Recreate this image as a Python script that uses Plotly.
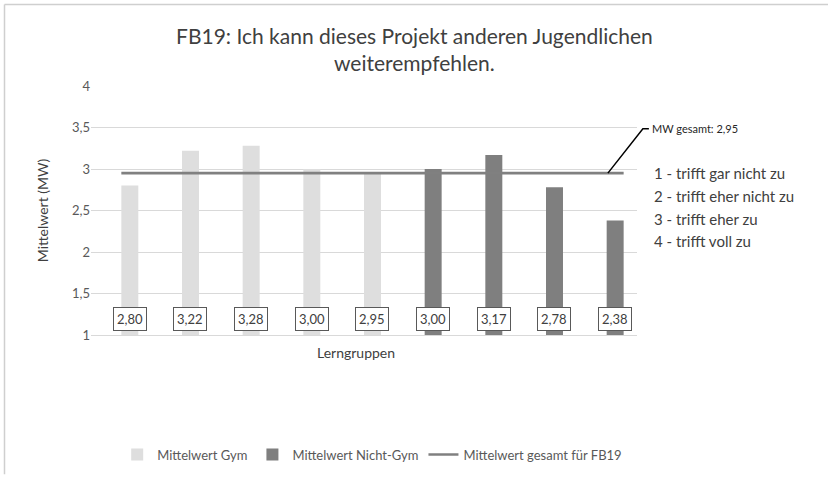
import plotly.graph_objects as go

# Mittelwerte je Lerngruppe
groups = ["G1", "G2", "G3", "G4", "G5", "N1", "N2", "N3", "N4"]
gym_values = [2.80, 3.22, 3.28, 3.00, 2.95, None, None, None, None]
nongym_values = [None, None, None, None, None, 3.00, 3.17, 2.78, 2.38]
overall_mean = 2.95
value_labels = ["2,80", "3,22", "3,28", "3,00", "2,95", "3,00", "3,17", "2,78", "2,38"]
y_ticks = [1, 1.5, 2, 2.5, 3, 3.5, 4]
y_tick_text = ["1", "1,5", "2", "2,5", "3", "3,5", "4"]
scale_text = ["1 - trifft gar nicht zu", "2 - trifft eher nicht zu",
              "3 - trifft eher zu", "4 - trifft voll zu"]
title_lines = ["FB19: Ich kann dieses Projekt anderen Jugendlichen", "weiterempfehlen."]

FONT = "Lato"
W, H = 828, 481
ML, MR, MT, MB = 91, 191, 86, 143
BAR_W = 0.28
x_idx = list(range(len(groups)))
x_range = [-0.5, len(groups) - 0.5]
y_range = [1, 4]

pw = W - ML - MR
ph = H - MT - MB


def px_x(data_x):
    return (data_x - x_range[0]) / (x_range[1] - x_range[0])


def px_y(data_y):
    return (data_y - y_range[0]) / (y_range[1] - y_range[0])


def paper_y(pixel_y):
    return (H - MB - pixel_y) / ph


fig = go.Figure()
fig.add_trace(go.Bar(
    x=x_idx, y=gym_values, width=BAR_W, offset=0,
    marker=dict(color="#dedede", line=dict(width=0)),
    name="Mittelwert Gym",
))
fig.add_trace(go.Bar(
    x=x_idx, y=nongym_values, width=BAR_W, offset=0,
    marker=dict(color="#7f7f7f", line=dict(width=0)),
    name="Mittelwert Nicht-Gym",
))
fig.add_trace(go.Scatter(
    x=[x_idx[0], x_idx[-1] + BAR_W], y=[overall_mean, overall_mean],
    mode="lines", line=dict(color="#808080", width=2.6),
    name="Mittelwert gesamt für FB19",
))

# Wertbeschriftungen am Balkenfuß
for i, lab in enumerate(value_labels):
    fig.add_annotation(
        x=x_idx[i] + BAR_W / 2, y=y_range[0], xref="x", yref="y",
        text=lab, showarrow=False, yanchor="bottom", yshift=4,
        font=dict(family=FONT, size=13, color="#404040"),
        bgcolor="white", bordercolor="#595959", borderwidth=1, borderpad=3,
    )

# Titel (zweizeilig)
for k, line in enumerate(title_lines):
    fig.add_annotation(x=0.5, xref="paper", y=paper_y(35 + 27 * k), yref="paper",
                       xanchor="center", yanchor="middle", showarrow=False,
                       text=line, xshift=(W / 2 - (ML + pw / 2)),
                       font=dict(family=FONT, size=21, color="#404040"))

# Hinweis auf den Gesamtmittelwert mit Führungslinie
lx0 = px_x(x_idx[-1] + 0.02)
ly0 = px_y(overall_mean)
lx1 = lx0 + 35 / pw
ly1 = ly0 + 45 / ph
lx2 = lx1 + 6 / pw
fig.add_shape(type="path", xref="paper", yref="paper",
              path=f"M {lx0} {ly0} L {lx1} {ly1} L {lx2} {ly1}",
              line=dict(color="black", width=1.5))
fig.add_annotation(x=lx2, y=ly1, xref="paper", yref="paper",
                   text="MW gesamt: 2,95", showarrow=False,
                   xanchor="left", yanchor="middle", xshift=1,
                   font=dict(family=FONT, size=11, color="#262626"))

# Skalenlegende rechts
for k, t in enumerate(scale_text):
    fig.add_annotation(x=px_x(x_range[1]) + 15 / pw, y=px_y(2.95) - (k * 23) / ph,
                       xref="paper", yref="paper", text=t, showarrow=False,
                       xanchor="left", yanchor="middle",
                       font=dict(family=FONT, size=15, color="#404040"))

# Achsentitel x
fig.add_annotation(x=0.485, y=0, xref="paper", yref="paper", text="Lerngruppen",
                   showarrow=False, yanchor="top", yshift=-7,
                   font=dict(family=FONT, size=14, color="#404040"))

# Rahmen des Diagrammbereichs
fig.add_shape(type="line", xref="paper", yref="paper",
              x0=(4.5 - ML) / pw, x1=(W - ML) / pw,
              y0=(H - 3.5 - MB) / ph, y1=(H - 3.5 - MB) / ph,
              line=dict(color="#cfcfcf", width=1.5))
fig.add_shape(type="line", xref="paper", yref="paper",
              x0=(4.5 - ML) / pw, x1=(4.5 - ML) / pw,
              y0=(H - 3.5 - MB) / ph, y1=(2 - MB) / ph,
              line=dict(color="#cfcfcf", width=1.5))

fig.update_layout(
    width=W, height=H,
    margin=dict(l=ML, r=MR, t=MT, b=MB),
    paper_bgcolor="white", plot_bgcolor="white",
    barmode="overlay",
    font=dict(family=FONT, color="#595959"),
    showlegend=True,
    legend=dict(orientation="h", x=0.515, xanchor="center", y=paper_y(459), yanchor="middle",
                font=dict(family=FONT, size=13, color="#595959"),
                itemwidth=30, tracegroupgap=0),
    xaxis=dict(range=x_range, showticklabels=False, showgrid=False, zeroline=False,
               showline=True, linecolor="#d9d9d9", linewidth=1, ticks=""),
    yaxis=dict(range=y_range, tickvals=y_ticks, ticktext=y_tick_text,
               showgrid=True, gridcolor="#d9d9d9", gridwidth=1, zeroline=False,
               tickfont=dict(family=FONT, size=13, color="#595959"),
               ticks="", ticklen=0,
               title=dict(text="Mittelwert (MW)", standoff=20,
                          font=dict(family=FONT, size=14, color="#404040"))),
)

fig.write_html("out.html")
